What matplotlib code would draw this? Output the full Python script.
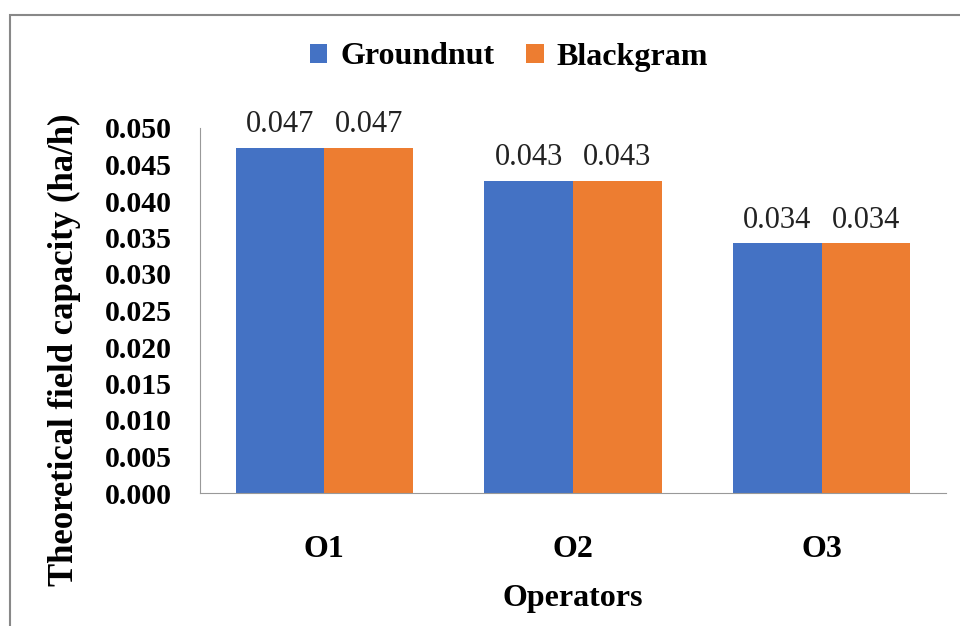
import matplotlib
matplotlib.use("Agg")
import matplotlib.pyplot as plt
from matplotlib.patches import Rectangle
import numpy as np

categories = ["O1", "O2", "O3"]
groundnut = [0.0473, 0.0428, 0.0342]
blackgram = [0.0473, 0.0428, 0.0342]
series_names = ["Groundnut", "Blackgram"]
colors = ["#4472C4", "#ED7D31"]
yticks = [0.000, 0.005, 0.010, 0.015, 0.020, 0.025, 0.030, 0.035, 0.040, 0.045, 0.050]

plt.rcParams['font.family'] = ['Liberation Serif', 'DejaVu Serif']

fig = plt.figure(figsize=(9.6, 6.26), dpi=100)
ax = fig.add_axes([200/960, 1-493/626, 746/960, 365/626])

x = np.arange(len(categories))
w = 0.357
b1 = ax.bar(x - w/2, groundnut, w, color=colors[0], label=series_names[0])
b2 = ax.bar(x + w/2, blackgram, w, color=colors[1], label=series_names[1])
for bars in (b1, b2):
    ax.bar_label(bars, labels=[f"{v:.3f}" for v in bars.datavalues], padding=6, fontsize=22, color="#222222")

ax.set_xlim(-0.5, 2.5)
ax.set_ylim(0, 0.050)
ax.set_yticks(yticks)
ax.set_yticklabels([f"{t:.3f}" for t in yticks], fontsize=21.5, fontweight="bold")
ax.set_xticks(x)
ax.set_xticklabels(categories, fontsize=23, fontweight="bold")
ax.tick_params(axis="y", length=0, pad=20)
ax.tick_params(axis="x", length=0, pad=30)
for s in ("top", "right"):
    ax.spines[s].set_visible(False)
ax.spines["left"].set_color("#999999")
ax.spines["bottom"].set_color("#999999")

ax.set_ylabel("Theoretical field capacity (ha/h)", fontsize=25, fontweight="bold")
ax.yaxis.set_label_coords(-0.181, 0.392)
ax.yaxis.label.set_va("center")
ax.set_xlabel("Operators", fontsize=23, fontweight="bold")
ax.xaxis.set_label_coords(0.5, -0.29)
ax.xaxis.label.set_va("center")

leg = fig.legend(loc="center", bbox_to_anchor=(0.530, 1-57/626), ncol=2, frameon=False,
                 prop={"size": 23, "weight": "bold"}, handlelength=0.55, handleheight=0.55,
                 handletextpad=0.4, columnspacing=1.0)

fig.patches.append(Rectangle((10/960, -0.1), 1.2, 1-15/626+0.1, transform=fig.transFigure,
                             fill=False, edgecolor="#888888", linewidth=1.5))

fig.savefig("out.png", dpi=100)
